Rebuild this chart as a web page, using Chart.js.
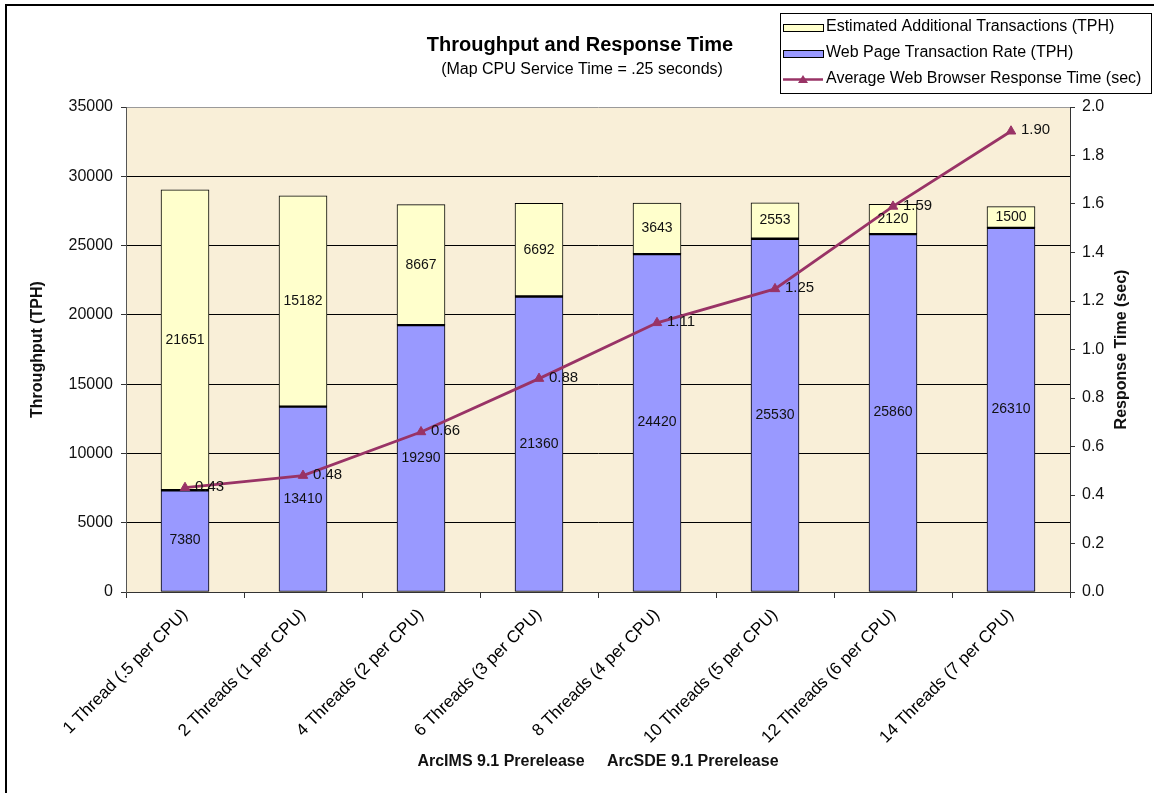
<!DOCTYPE html>
<html>
<head>
<meta charset="utf-8">
<title>Throughput and Response Time</title>
<script src="https://cdn.jsdelivr.net/npm/chart.js@4.4.1/dist/chart.umd.min.js"></script>
<style>
  html, body { margin: 0; padding: 0; background: #ffffff; }
  #wrap { width: 1154px; height: 793px; position: relative; }
  canvas { display: block; }
</style>
</head>
<body>
<div id="wrap"><canvas id="chart" width="1154" height="793"></canvas></div>
<script>
// Thread configurations tested
const categories = [
  '1 Thread (.5 per CPU)',
  '2 Threads (1 per CPU)',
  '4 Threads (2 per CPU)',
  '6 Threads (3 per CPU)',
  '8 Threads (4 per CPU)',
  '10 Threads (5 per CPU)',
  '12 Threads (6 per CPU)',
  '14 Threads (7 per CPU)'
];

// Measured web page transaction rate (TPH)
const webPageTPH = [7380, 13410, 19290, 21360, 24420, 25530, 25860, 26310];

// Estimated additional transactions on top of the measured rate (TPH)
const additionalTPH = [21651, 15182, 8667, 6692, 3643, 2553, 2120, 1500];

// Average web browser response time (seconds)
const responseSec = [0.43, 0.48, 0.66, 0.88, 1.11, 1.25, 1.59, 1.90];

// Axis tick settings
const throughputTicks = { min: 0, max: 35000, step: 5000 };
const responseTicks = { min: 0, max: 2.0, step: 0.2 };

const FONT = '"Liberation Sans", Arial, Helvetica, sans-serif';
const LINE_COLOR = '#993366';
const BLUE = '#9999FF';
const YELLOW = '#FFFFCC';

Chart.defaults.font.family = FONT;
Chart.defaults.color = '#111';

// Page background and plot fill
const plotBackground = {
  id: 'plotBackground',
  beforeDraw(chart) {
    const { ctx, chartArea: a } = chart;
    ctx.save();
    ctx.fillStyle = '#ffffff';
    ctx.fillRect(0, 0, chart.width, chart.height);
    ctx.fillStyle = '#F9EFD8';
    ctx.fillRect(a.left, a.top, a.right - a.left, a.bottom - a.top);
    ctx.restore();
  }
};

// Value labels on the bar segments and the response-time points
const valueLabels = {
  id: 'valueLabels',
  afterDatasetsDraw(chart) {
    const { ctx } = chart;
    ctx.save();
    ctx.fillStyle = '#111';
    ctx.textBaseline = 'middle';
    chart.data.datasets.forEach((ds, di) => {
      const meta = chart.getDatasetMeta(di);
      if (meta.hidden) return;
      meta.data.forEach((el, i) => {
        const v = ds.data[i];
        if (ds.type === 'bar') {
          ctx.font = '14px ' + FONT;
          ctx.textAlign = 'center';
          const p = el.getProps(['x', 'y', 'base'], true);
          ctx.fillText(String(v), p.x, (p.y + p.base) / 2);
        } else {
          ctx.font = '15px ' + FONT;
          ctx.textAlign = 'left';
          const p = el.getProps(['x', 'y'], true);
          ctx.fillText(v.toFixed(2), p.x + 10, p.y - 1);
        }
      });
    });
    ctx.restore();
  }
};

// Titles, right-hand axis title, legend box and outer frame
const decorations = {
  id: 'decorations',
  afterDraw(chart) {
    const { ctx, chartArea: a } = chart;
    ctx.save();

    // outer frame (left and top edges)
    ctx.fillStyle = '#000';
    ctx.fillRect(5, 4, chart.width - 5, 2);
    ctx.fillRect(5, 4, 2, chart.height - 4);

    // chart title
    ctx.fillStyle = '#000';
    ctx.textAlign = 'center';
    ctx.textBaseline = 'middle';
    ctx.font = 'bold 20px ' + FONT;
    ctx.fillText('Throughput and Response Time', 580, 45);
    ctx.font = '16px ' + FONT;
    ctx.fillText('(Map CPU Service Time = .25 seconds)', 582, 70);

    // right axis title, reading upward
    ctx.save();
    ctx.translate(1122, (a.top + a.bottom) / 2);
    ctx.rotate(-Math.PI / 2);
    ctx.font = 'bold 16px ' + FONT;
    ctx.fillStyle = '#111';
    ctx.fillText('Response Time (sec)', 0, 0);
    ctx.restore();

    // legend
    const lx = 780, ly = 13, lw = 371, lh = 80;
    ctx.fillStyle = '#fff';
    ctx.fillRect(lx, ly, lw, lh);
    ctx.strokeStyle = '#000';
    ctx.lineWidth = 1;
    ctx.strokeRect(lx + 0.5, ly + 0.5, lw, lh);

    const items = [
      { kind: 'box', color: YELLOW, text: chart.data.datasets[1].label },
      { kind: 'box', color: BLUE, text: chart.data.datasets[0].label },
      { kind: 'line', color: LINE_COLOR, text: chart.data.datasets[2].label }
    ];
    const rowY = [27, 53, 79];
    items.forEach((it, k) => {
      const y = rowY[k];
      if (it.kind === 'box') {
        ctx.fillStyle = it.color;
        ctx.fillRect(783, y - 3, 40, 7);
        ctx.strokeStyle = '#000';
        ctx.lineWidth = 1;
        ctx.strokeRect(783.5, y - 2.5, 40, 7);
      } else {
        ctx.strokeStyle = it.color;
        ctx.lineWidth = 2.5;
        ctx.beginPath();
        ctx.moveTo(783, y + 0.5);
        ctx.lineTo(823, y + 0.5);
        ctx.stroke();
        ctx.fillStyle = it.color;
        ctx.beginPath();
        ctx.moveTo(803, y - 4);
        ctx.lineTo(808, y + 4);
        ctx.lineTo(798, y + 4);
        ctx.closePath();
        ctx.fill();
      }
      ctx.fillStyle = '#000';
      ctx.textAlign = 'left';
      ctx.textBaseline = 'middle';
      ctx.font = '16px ' + FONT;
      ctx.fillText(it.text, 826, y);
    });

    ctx.restore();
  }
};

new Chart(document.getElementById('chart'), {
  data: {
    labels: categories,
    datasets: [
      {
        type: 'bar',
        label: 'Web Page Transaction Rate (TPH)',
        data: webPageTPH,
        yAxisID: 'y',
        stack: 'tph',
        order: 1,
        backgroundColor: BLUE,
        borderColor: '#000',
        borderWidth: { top: 2, left: 1, right: 1, bottom: 1 },
        borderSkipped: false,
        barThickness: 48
      },
      {
        type: 'bar',
        label: 'Estimated Additional Transactions (TPH)',
        data: additionalTPH,
        yAxisID: 'y',
        stack: 'tph',
        order: 1,
        backgroundColor: YELLOW,
        borderColor: '#000',
        borderWidth: 1,
        borderSkipped: false,
        barThickness: 48
      },
      {
        type: 'line',
        label: 'Average Web Browser Response Time (sec)',
        data: responseSec,
        yAxisID: 'y1',
        order: 0,
        borderColor: LINE_COLOR,
        backgroundColor: LINE_COLOR,
        borderWidth: 2.8,
        tension: 0,
        pointStyle: 'triangle',
        pointRadius: 5.5,
        pointBorderWidth: 1,
        fill: false
      }
    ]
  },
  options: {
    responsive: false,
    animation: false,
    devicePixelRatio: 1,
    layout: { padding: { top: 107, left: 0, right: 0, bottom: 0 } },
    plugins: {
      legend: { display: false },
      title: { display: false },
      tooltip: { enabled: false }
    },
    scales: {
      x: {
        stacked: true,
        offset: true,
        grid: { offset: true, drawOnChartArea: false, drawTicks: true, tickLength: 6, color: '#333' },
        border: { color: '#333' },
        ticks: {
          autoSkip: false,
          minRotation: 45,
          maxRotation: 45,
          padding: 7,
          color: '#000',
          font: { size: 17 }
        },
        title: {
          display: true,
          text: 'ArcIMS 9.1 Prerelease     ArcSDE 9.1 Prerelease',
          color: '#111',
          font: { size: 16, weight: 'bold' },
          padding: { top: 0, bottom: 22 }
        },
        afterFit(scale) { scale.height = 201; }
      },
      y: {
        position: 'left',
        stacked: true,
        min: throughputTicks.min,
        max: throughputTicks.max,
        ticks: {
          stepSize: throughputTicks.step,
          padding: 8,
          color: '#111',
          font: { size: 16 },
          callback: (v) => String(v)
        },
        grid: {
          drawTicks: true,
          tickLength: 5,
          tickColor: '#333',
          color: (c) => (c.tick && c.tick.value === throughputTicks.max) ? '#9a9a9a' : '#000'
        },
        border: { color: '#555' },
        title: {
          display: true,
          text: 'Throughput (TPH)',
          color: '#111',
          font: { size: 16, weight: 'bold' },
          padding: { top: 28, bottom: 0 }
        },
        afterFit(scale) { scale.width = 126; }
      },
      y1: {
        position: 'right',
        min: responseTicks.min,
        max: responseTicks.max,
        ticks: {
          stepSize: responseTicks.step,
          padding: 7,
          color: '#111',
          font: { size: 16 },
          callback: (v) => Number(v).toFixed(1)
        },
        grid: { drawOnChartArea: false, drawTicks: true, tickLength: 5, color: '#333' },
        border: { color: '#333' },
        afterFit(scale) { scale.width = 84; }
      }
    }
  },
  plugins: [plotBackground, valueLabels, decorations]
});
</script>
</body>
</html>
